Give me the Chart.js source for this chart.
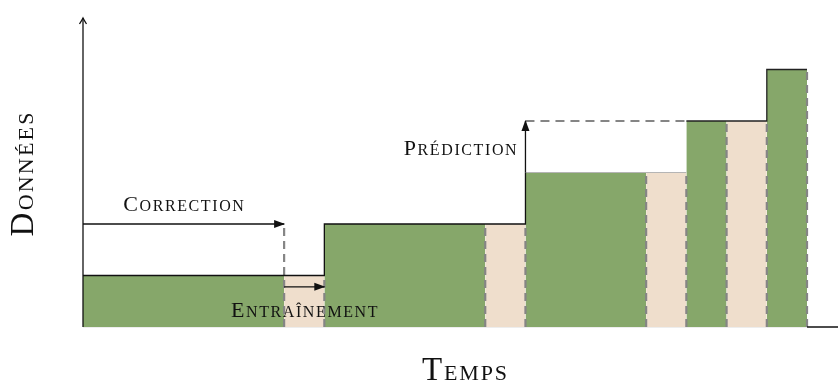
<!DOCTYPE html>
<html>
<head>
<meta charset="utf-8">
<script src="https://cdn.jsdelivr.net/npm/chart.js@4.4.1/dist/chart.umd.min.js"></script>
<style>
  html, body { margin: 0; padding: 0; background: #fff; }
  #wrap { width: 838px; height: 383px; position: relative; }
</style>
</head>
<body>
<div id="wrap"><canvas id="chart"></canvas></div>
<script>
// time blocks: start, end, height and kind (data / training window)
const blockStart = [0, 5, 6, 10, 11, 14, 15, 16, 17]
const blockEnd = [5, 6, 10, 11, 14, 15, 16, 17, 18]
const blockHeight = [1, 1, 2, 2, 3, 3, 4, 4, 5]
const blockKind = ["data", "train", "data", "train", "data", "train", "data", "train", "data"]

const xMax = 18.77
const yMax = 6

// step outline on top of the blocks
const outlineA = [[0, 1], [6, 1], [6, 2], [11, 2], [11, 3]]
const outlineB = [[15, 4], [17, 4], [17, 5], [18, 5]]
const outlineGrey = [[11, 3], [15, 3]]

// dashed separators (x, top)
const sepX = [5, 6, 10, 11, 14, 15, 16, 17, 18]
const sepTop = [2, 1, 2, 2, 3, 3, 4, 4, 5]

// arrows
const correctionArrow = [[0, 2], [5, 2]]
const trainingArrow = [[5, 0.78], [6, 0.78]]
const predictionArrow = [[11, 3], [11, 4]]
const predictionDash = [[11, 4], [15, 4]]
const yAxisArrow = [[0, 0], [0, 6]]
const xAxisUnder = [[0, 0], [18, 0]]
const xAxisLine = [[18, 0], [xMax, 0]]

const labelText = ["Correction", "Entraînement", "Prédiction"]
const labelX = [2.5, 5.5, 10.78]
const labelY = [2.25, 0.19, 3.34]
const labelAlign = ["center", "center", "right"]
const axisTitles = ["Temps", "Données"]

const GREEN = "#86a76a"
const BEIGE = "#efdecc"
const DASH = "#858585"
const FONT = '"Liberation Serif", "DejaVu Serif", serif'

const toPts = (arr) => arr.map(([x, y]) => ({ x, y }))

function lineSet(points, color, width, extra) {
  return Object.assign({
    data: toPts(points),
    borderColor: color,
    borderWidth: width,
    pointRadius: 0,
    fill: false,
    clip: false,
    order: 1,
  }, extra || {})
}

const datasets = []

// blocks as filled segments
blockStart.forEach((s, i) => {
  datasets.push({
    data: toPts([[s, blockHeight[i]], [blockEnd[i], blockHeight[i]]]),
    borderColor: "transparent",
    borderWidth: 0,
    backgroundColor: blockKind[i] === "data" ? GREEN : BEIGE,
    fill: "origin",
    pointRadius: 0,
    clip: false,
    order: 4,
  })
})

datasets.push(lineSet(xAxisUnder, "#dcdcdc", 1.2, { order: 5 }))

sepX.forEach((x, i) => {
  datasets.push(lineSet([[x, 0], [x, sepTop[i]]], DASH, 2.2, { borderDash: [8, 5], order: 2 }))
})
datasets.push(lineSet(predictionDash, DASH, 2.2, { borderDash: [9, 6], order: 2 }))
datasets.push(lineSet(outlineGrey, "#b5b5b5", 1.2, { order: 3 }))

datasets.push(lineSet(outlineA, "#111", 1.3))
datasets.push(lineSet(outlineB, "#222", 1.3))
datasets.push(lineSet(xAxisLine, "#111", 1.5))
datasets.push(lineSet(correctionArrow, "#111", 1.3, { arrow: "solid" }))
datasets.push(lineSet(trainingArrow, "#111", 1.3, { arrow: "solid" }))
datasets.push(lineSet(predictionArrow, "#111", 1.3, { arrow: "solid" }))
datasets.push(lineSet(yAxisArrow, "#111", 1.3, { arrow: "open" }))

// small caps by hand: big first letter, rest upper case smaller
function drawCaps(ctx, text, x, y, big, small, sp, align) {
  const chars = [...text]
  const parts = chars.map((c, i) => ({ c: i === 0 ? c : c.toUpperCase(), size: i === 0 ? big : small }))
  let total = 0
  parts.forEach((p) => {
    ctx.font = p.size + "px " + FONT
    p.w = ctx.measureText(p.c).width
    total += p.w
  })
  total += sp * (parts.length - 1)
  let cx = align === "center" ? x - total / 2 : align === "right" ? x - total : x
  ctx.textAlign = "left"
  ctx.textBaseline = "alphabetic"
  parts.forEach((p) => {
    ctx.font = p.size + "px " + FONT
    ctx.fillText(p.c, cx, y)
    cx += p.w + sp
  })
}

const arrowHeads = {
  id: "arrowHeads",
  afterDatasetsDraw(chart) {
    const ctx = chart.ctx
    chart.data.datasets.forEach((ds, i) => {
      if (!ds.arrow) return
      const pts = chart.getDatasetMeta(i).data
      const a = pts[pts.length - 2], b = pts[pts.length - 1]
      const ang = Math.atan2(b.y - a.y, b.x - a.x)
      ctx.save()
      ctx.translate(b.x, b.y)
      ctx.rotate(ang)
      ctx.fillStyle = "#111"
      ctx.strokeStyle = "#111"
      if (ds.arrow === "solid") {
        ctx.beginPath()
        ctx.moveTo(1, 0)
        ctx.lineTo(-10, -4)
        ctx.lineTo(-10, 4)
        ctx.closePath()
        ctx.fill()
      } else {
        ctx.lineWidth = 1.3
        ctx.beginPath()
        ctx.moveTo(-6, -3.5)
        ctx.quadraticCurveTo(-2, -1, 0, 0)
        ctx.quadraticCurveTo(-2, 1, -6, 3.5)
        ctx.stroke()
      }
      ctx.restore()
    })
  },
}

const textLabels = {
  id: "textLabels",
  afterDraw(chart) {
    const ctx = chart.ctx
    const xs = chart.scales.x, ys = chart.scales.y
    const area = chart.chartArea
    ctx.save()
    ctx.fillStyle = "#111"
    labelText.forEach((t, i) => {
      drawCaps(ctx, t, xs.getPixelForValue(labelX[i]), ys.getPixelForValue(labelY[i]), 22, 16, 1.6, labelAlign[i])
    })
    drawCaps(ctx, axisTitles[0], (area.left + area.right) / 2 + 4, area.bottom + 53, 33, 22, 1.8, "center")
    ctx.translate(33, (area.top + area.bottom) / 2 + 2)
    ctx.rotate(-Math.PI / 2)
    drawCaps(ctx, axisTitles[1], 0, 0, 33, 22, 2.2, "center")
    ctx.restore()
  },
}

new Chart(document.getElementById("chart"), {
  type: "line",
  data: { datasets },
  options: {
    responsive: true,
    maintainAspectRatio: false,
    animation: false,
    events: [],
    layout: { padding: { left: 83, right: 0, top: 18, bottom: 56 } },
    plugins: { legend: { display: false }, tooltip: { enabled: false } },
    scales: {
      x: { type: "linear", min: 0, max: xMax, display: false },
      y: { type: "linear", min: 0, max: yMax, display: false },
    },
  },
  plugins: [arrowHeads, textLabels],
})
</script>
</body>
</html>
